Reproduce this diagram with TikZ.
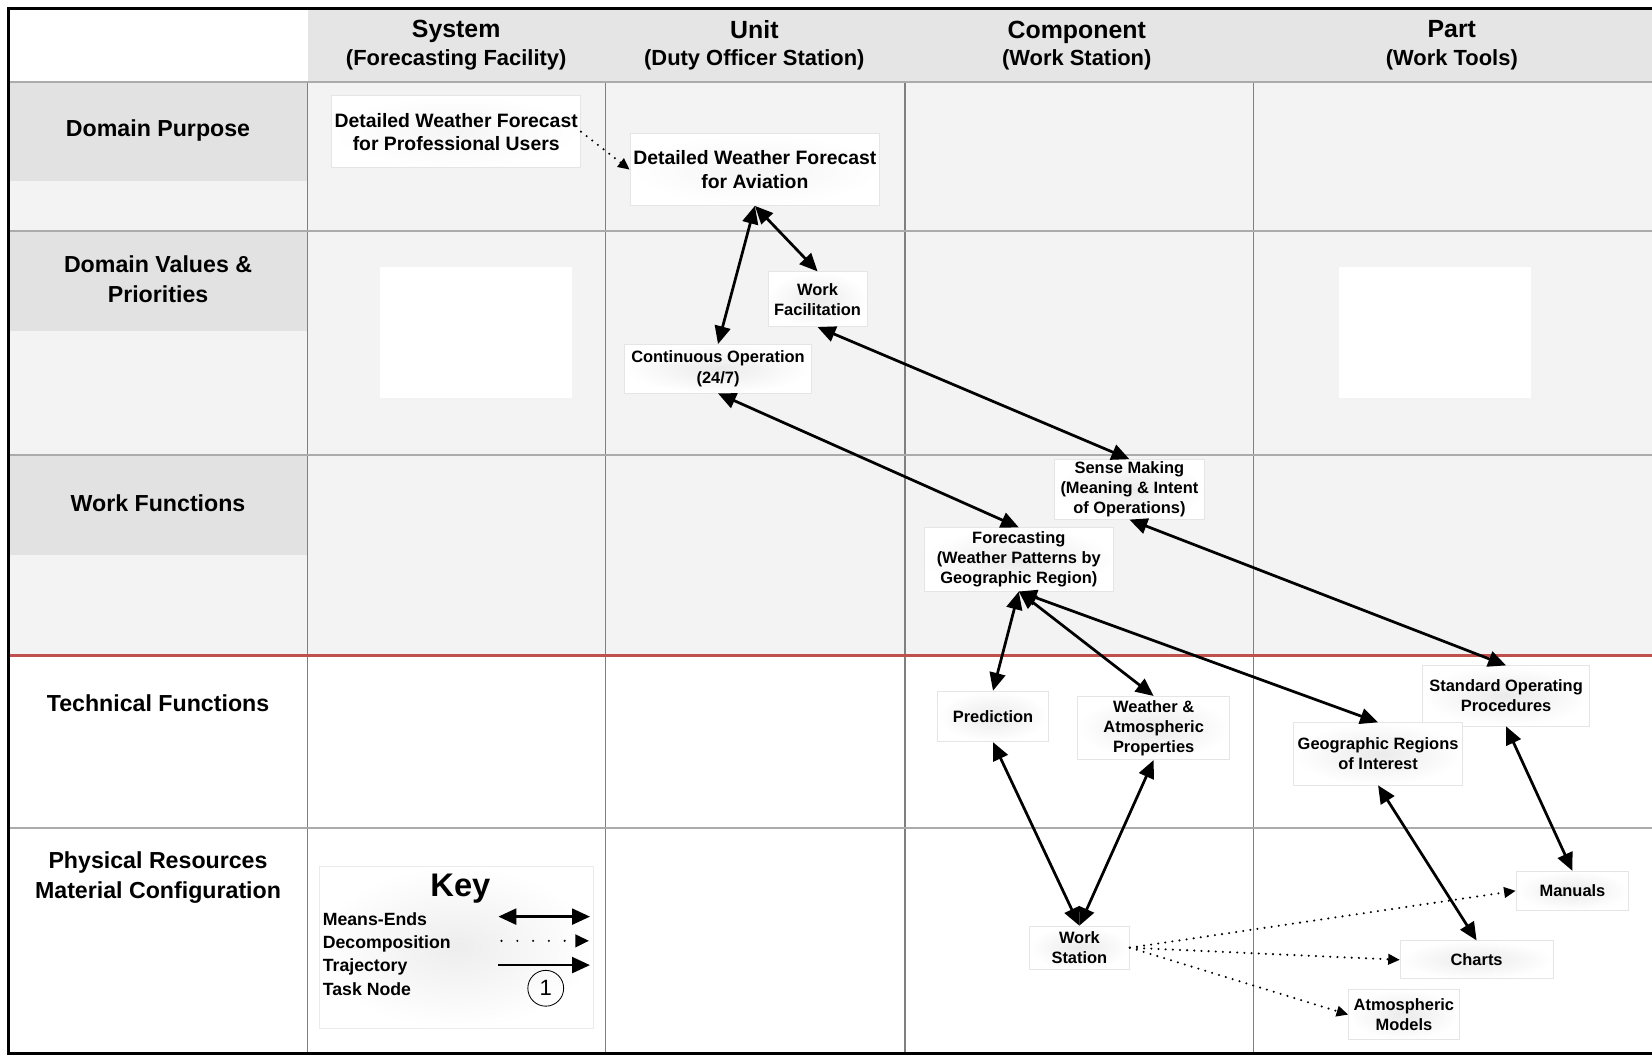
\documentclass[tikz,border=0pt]{standalone}
\usepackage{fontspec}
\setmainfont{Liberation Sans}
\usetikzlibrary{arrows.meta,positioning}
\definecolor{cellgray}{HTML}{F3F3F3}
\definecolor{bandgray}{HTML}{E2E2E2}
\definecolor{headgray}{HTML}{E5E5E5}
\definecolor{gridgray}{HTML}{7F7F7F}
\definecolor{rowgray}{HTML}{ABABAB}
\definecolor{boundred}{HTML}{C0504D}
\tikzset{
  func/.style={
    rectangle,
    draw=black!10,
    inner color=black!8,
    outer color=white,
    align=center,
    inner sep=1pt,
    font=\bfseries\fontsize{7.8}{9.5}\selectfont
  },
  purpose/.style={
    func,
    inner color=black!4,
    font=\bfseries\fontsize{9.2}{11}\selectfont
  },
  keybox/.style={
    rectangle,
    draw=black!8,
    inner color=black!7,
    outer color=white
  },
  rowlabel/.style={align=center,font=\bfseries\fontsize{11}{14.5}\selectfont},
  colhead/.style={align=center,font=\bfseries\fontsize{10.4}{13}\selectfont},
  keyitem/.style={anchor=base west,inner sep=0pt,font=\bfseries\fontsize{8.4}{10}\selectfont},
  tasknode/.style={circle,draw,thin,minimum size=17pt,inner sep=0pt,font=\fontsize{10.5}{12}\selectfont},
  gridline/.style={draw=gridgray,line width=0.6pt},
  rowline/.style={draw=rowgray,line width=0.8pt},
  boundary/.style={draw=boundred,line width=1.3pt},
  meansends/.style={{Triangle[length=8.5pt,width=7.5pt]}-{Triangle[length=8.5pt,width=7.5pt]},line width=1.3pt},
  traj/.style={-{Triangle[length=8.5pt,width=7.5pt]},line width=1.3pt},
  decomp/.style={-{Triangle[length=5.5pt,width=5pt]},line width=1.1pt,line cap=round,dash pattern=on 0pt off 3.4pt}
}

\begin{document}
\begin{tikzpicture}[x=0.5pt,y=-0.5pt]
    \useasboundingbox (0,0) rectangle (1568,1002);

    % cells and bands
    \fill[cellgray] (8,78) rectangle (1568,622);
    \fill[bandgray] (8,78) rectangle (292,172);
    \fill[bandgray] (8,219) rectangle (292,314);
    \fill[bandgray] (8,432) rectangle (292,527);
    \fill[headgray] (292,8) rectangle (1568,78);
    \fill[white] (361,253) rectangle (543,378);
    \fill[white] (1271,253) rectangle (1453,378);

    % grid
    \foreach \x in {292,575,859,1190}
      \draw[gridline] (\x,78) -- (\x,1000);
    \foreach \y in {78,219,432,786}
      \draw[rowline] (8,\y) -- (1568,\y);
    \draw[boundary] (8,622) -- (1568,622);
    \draw[line width=1.3pt] (1568,8) -- (8,8) -- (8,1000) -- (1568,1000);

    % column heads
    \node[colhead] (hsys) at (433,43) {{\fontsize{11.8}{13}\selectfont System}\\(Forecasting Facility)};
    \node[colhead] (hunit) at (716,43) {{\fontsize{11.8}{13}\selectfont Unit}\\(Duty Officer Station)};
    \node[colhead] (hcomp) at (1022,43) {{\fontsize{11.8}{13}\selectfont Component}\\(Work Station)};
    \node[colhead] (hpart) at (1378,43) {{\fontsize{11.8}{13}\selectfont Part}\\(Work Tools)};

    % row labels
    \node[rowlabel] (rpurp) at (150,124) {Domain Purpose};
    \node[rowlabel] (rval) at (150,265) {Domain Values \&\\Priorities};
    \node[rowlabel] (rwork) at (150,478) {Work Functions};
    \node[rowlabel] (rtech) at (150,667) {Technical Functions};
    \node[rowlabel] (rphys) at (150,833) {Physical Resources\\Material Configuration};

    % abstraction nodes
    \node[purpose,minimum width=118pt,minimum height=34pt] (prof) at (433,125) {Detailed Weather Forecast\\for Professional Users};
    \node[purpose,minimum width=118.5pt,minimum height=34pt] (avia) at (716.5,161) {Detailed Weather Forecast\\for Aviation};
    \node[func,minimum width=47pt,minimum height=26pt] (workfac) at (776,284) {Work\\Facilitation};
    \node[func,minimum width=88.5pt,minimum height=23pt] (contop) at (681.5,350) {Continuous Operation\\(24/7)};
    \node[func,minimum width=71pt,minimum height=27.5pt] (sense) at (1072,464.5) {Sense Making\\(Meaning \& Intent\\of Operations)};
    \node[func,minimum width=90pt,minimum height=30pt] (fcast) at (967,531) {Forecasting\\(Weather Patterns by\\Geographic Region)};
    \node[func,minimum width=52.5pt,minimum height=24pt] (predict) at (942.5,680) {Prediction};
    \node[func,minimum width=72pt,minimum height=30pt] (weather) at (1095,691) {Weather \&\\Atmospheric\\Properties};
    \node[func,minimum width=79.5pt,minimum height=28.5pt] (sop) at (1429.5,660.5) {Standard Operating\\Procedures};
    \node[func,minimum width=80pt,minimum height=29.5pt] (georeg) at (1308,715.5) {Geographic Regions\\of Interest};
    \node[func,minimum width=47.5pt,minimum height=20.5pt] (workst) at (1024.5,899.5) {Work\\Station};
    \node[func,minimum width=53.5pt,minimum height=18.5pt] (manuals) at (1492.5,845.5) {Manuals};
    \node[func,minimum width=72.5pt,minimum height=18pt] (charts) at (1401.5,911) {Charts};
    \node[func,minimum width=52.5pt,minimum height=24pt] (atmmod) at (1332.5,963) {Atmospheric\\Models};

    % means-ends links
    \draw[meansends] (avia.south) -- (contop.north);
    \draw[meansends] (avia.south) -- (workfac.north);
    \draw[meansends] (workfac.south) -- (sense.north);
    \draw[meansends] (contop.south) -- (fcast.north);
    \draw[meansends] (fcast.south) -- (predict.north);
    \draw[meansends] (fcast.south) -- (weather.north);
    \draw[meansends] (fcast.south) -- (georeg.north);
    \draw[meansends] (sense.south) -- (sop.north);
    \draw[meansends] (predict.south) -- (workst.north);
    \draw[meansends] (weather.south) -- (workst.north);
    \draw[meansends] (georeg.south) -- (charts.north);
    \draw[meansends] (sop.south) -- (manuals.north);

    % decomposition links
    \draw[decomp] (prof.east) -- (avia.west);
    \draw[decomp] (workst.east) -- (manuals.west);
    \draw[decomp] (workst.east) -- (charts.west);
    \draw[decomp] (workst.east) -- (atmmod.west);

    % key
    \node[keybox,minimum width=130pt,minimum height=77pt] (key) at (433,899) {};
    \node[font=\bfseries\fontsize{15.5}{18}\selectfont] (keytitle) at (437,843) {Key};
    \node[keyitem] (kme) at (306,878) {Means-Ends};
    \node[keyitem] (kdc) at (306,900) {Decomposition};
    \node[keyitem] (ktr) at (306,922) {Trajectory};
    \node[keyitem] (ktn) at (306,945) {Task Node};
    \coordinate (me1) at (473,870);
    \coordinate (me2) at (560,870);
    \coordinate (dc1) at (476,893);
    \coordinate (dc2) at (559,893);
    \coordinate (tr1) at (473,916);
    \coordinate (tr2) at (560,916);
    \draw[meansends] (me1) -- (me2);
    \draw[decomp,-{Triangle[length=6.5pt,width=6pt]},dash pattern=on 0pt off 7.5pt] (dc1) -- (dc2);
    \draw[traj] (tr1) -- (tr2);
    \node[tasknode] (task) at (518,938) {1};
  \end{tikzpicture}
\end{document}
